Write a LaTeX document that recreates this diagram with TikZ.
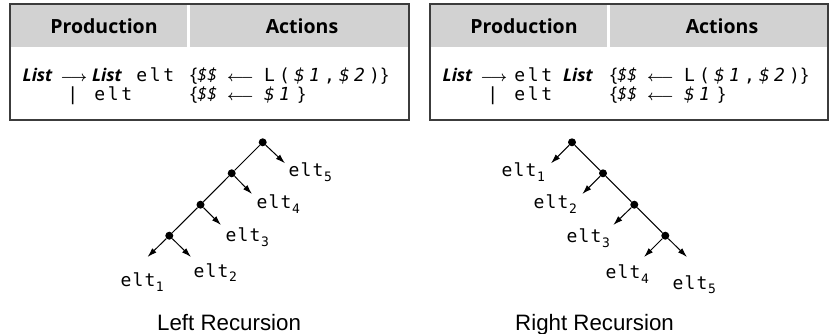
\documentclass[tikz,border=0pt]{standalone}
\usepackage{fontspec}
\setmainfont{Liberation Sans}
\newfontfamily\hsans{Open Sans}
\newfontfamily\dmono{DejaVu Sans Mono}
\usetikzlibrary{arrows.meta}
\makeatletter
\newcommand\pitched[2]{\@tfor\pch:=#2\do{\makebox[#1][c]{\pch}}}
\makeatother
\definecolor{hdrgray}{RGB}{210,210,210}
\definecolor{bordergray}{RGB}{60,60,60}
\newcommand\tmono[1]{{\fontsize{18}{18}\dmono\pitched{13.5pt}{#1}}}
\newcommand\tmonow[1]{{\fontsize{18}{18}\dmono\pitched{15pt}{#1}}}
\newcommand\lst{{\fontsize{17.5}{17.5}\hsans\bfseries\itshape List}}
\newcommand\ra{{\fontsize{14}{14}\selectfont\boldmath$\longrightarrow$}}
\newcommand\la{{\fontsize{14.5}{14.5}\selectfont\boldmath$\longleftarrow$}}
\newcommand\dd{{\fontsize{18}{18}\hsans\itshape\$\$}}
\newcommand\lb{{\fontsize{19}{19}\hsans\{}}
\newcommand\rb{{\fontsize{19}{19}\hsans\}}}
\newcommand\elt[1]{{\fontsize{18}{18}\dmono\pitched{12pt}{elt}}\raisebox{-5pt}{\fontsize{13}{13}\dmono #1}}
\tikzset{
  txt/.style={anchor=base west, inner sep=0pt, outer sep=0pt},
  hdr/.style={anchor=base, inner sep=0pt, font=\fontsize{19.5}{19.5}\hsans\bfseries},
  dot/.style={circle, fill=black, inner sep=0pt, minimum size=8pt},
  edge/.style={line width=1pt},
  arr/.style={line width=1pt, -{Latex[length=9.5pt,width=6pt]}},
  captxt/.style={anchor=base west, inner sep=0pt, font=\fontsize{22.3}{22.3}\selectfont},
}
\begin{document}
\begin{tikzpicture}[x=1pt,y=-1pt]
\useasboundingbox (0,0) rectangle (831,334);
% ---------- left table ----------
\fill[hdrgray] (10,4) rectangle (409,47);
\fill[white] (187,4) rectangle (189.5,47);
\draw[bordergray, line width=1.2pt] (10,4) rectangle (409,120);
\node[hdr] (lp) at (104,34) {Production};
\node[hdr] (la) at (302,34) {Actions};
\node[txt] (l1a) at (22.7,82) {\lst};
\node[txt] (l1b) at (60.5,82) {\ra};
\node[txt] (l1c) at (92,82) {\lst};
\node[txt] (l1d) at (135,82) {\tmono{elt}};
\node[txt] (l2a) at (66,101) {\tmono{|}};
\node[txt] (l2b) at (93,101) {\tmono{elt}};
\node[txt] (l1e) at (190,82) {\lb\dd};
\node[txt] (l1f) at (227,82) {\la};
\node[txt] (l1g) at (262,82) {\tmonow{L({\itshape\$}{\itshape 1},{\itshape\$}{\itshape 2})}};
\node[txt] (l1h) at (381,82) {\rb};
\node[txt] (l2e) at (190,101) {\lb\dd};
\node[txt] (l2f) at (227,101) {\la};
\node[txt] (l2g) at (262,101) {\tmonow{{\itshape\$}{\itshape 1}}};
\node[txt] (l2h) at (298,101) {\rb};
% ---------- right table ----------
\fill[hdrgray] (430,4) rectangle (828,47);
\fill[white] (607,4) rectangle (609.5,47);
\draw[bordergray, line width=1.2pt] (430,4) rectangle (828,120);
\node[hdr] (rp) at (524,34) {Production};
\node[hdr] (ra) at (722,34) {Actions};
\node[txt] (r1a) at (442.7,82) {\lst};
\node[txt] (r1b) at (480.5,82) {\ra};
\node[txt] (r1c) at (513,82) {\tmono{elt}};
\node[txt] (r1d) at (563,82) {\lst};
\node[txt] (r2a) at (486,101) {\tmono{|}};
\node[txt] (r2b) at (513,101) {\tmono{elt}};
\node[txt] (r1e) at (610,82) {\lb\dd};
\node[txt] (r1f) at (647,82) {\la};
\node[txt] (r1g) at (682,82) {\tmonow{L({\itshape\$}{\itshape 1},{\itshape\$}{\itshape 2})}};
\node[txt] (r1h) at (801,82) {\rb};
\node[txt] (r2e) at (610,101) {\lb\dd};
\node[txt] (r2f) at (647,101) {\la};
\node[txt] (r2g) at (682,101) {\tmonow{{\itshape\$}{\itshape 1}}};
\node[txt] (r2h) at (718,101) {\rb};
% ---------- left recursion tree ----------
\node[dot] (a1) at (262.7,142.3) {};
\node[dot] (a2) at (231.7,173.3) {};
\node[dot] (a3) at (200.5,204.7) {};
\node[dot] (a4) at (169.3,235.7) {};
\coordinate (t5) at (285,163.3);
\coordinate (t4) at (252,194);
\coordinate (t3) at (221,225);
\coordinate (t2) at (191,257);
\coordinate (t1) at (147.5,257);
\draw[edge] (a1) -- (a2) -- (a3) -- (a4);
\draw[arr] (a1) -- (t5);
\draw[arr] (a2) -- (t4);
\draw[arr] (a3) -- (t3);
\draw[arr] (a4) -- (t2);
\draw[arr] (a4) -- (t1);
\node[txt] (e5) at (288,177) {\elt{5}};
\node[txt] (e4) at (256,209) {\elt{4}};
\node[txt] (e3) at (225,241.5) {\elt{3}};
\node[txt] (e2) at (193,277) {\elt{2}};
\node[txt] (e1) at (120,287) {\elt{1}};
\node[captxt] (lc) at (157,330) {Left Recursion};
% ---------- right recursion tree ----------
\node[dot] (b1) at (572,142.3) {};
\node[dot] (b2) at (603,173.3) {};
\node[dot] (b3) at (634.3,204.7) {};
\node[dot] (b4) at (665.3,235.7) {};
\coordinate (s1) at (551,163.3);
\coordinate (s2) at (582.3,194);
\coordinate (s3) at (613.3,225);
\coordinate (s4) at (644,257);
\coordinate (s5) at (687,257);
\draw[edge] (b1) -- (b2) -- (b3) -- (b4);
\draw[arr] (b1) -- (s1);
\draw[arr] (b2) -- (s2);
\draw[arr] (b3) -- (s3);
\draw[arr] (b4) -- (s4);
\draw[arr] (b4) -- (s5);
\node[txt] (f1) at (501,176.7) {\elt{1}};
\node[txt] (f2) at (533,208.3) {\elt{2}};
\node[txt] (f3) at (566,242.5) {\elt{3}};
\node[txt] (f4) at (605,278.5) {\elt{4}};
\node[txt] (f5) at (672,289) {\elt{5}};
\node[captxt] (rc) at (515,330) {Right Recursion};
\end{tikzpicture}
\end{document}
